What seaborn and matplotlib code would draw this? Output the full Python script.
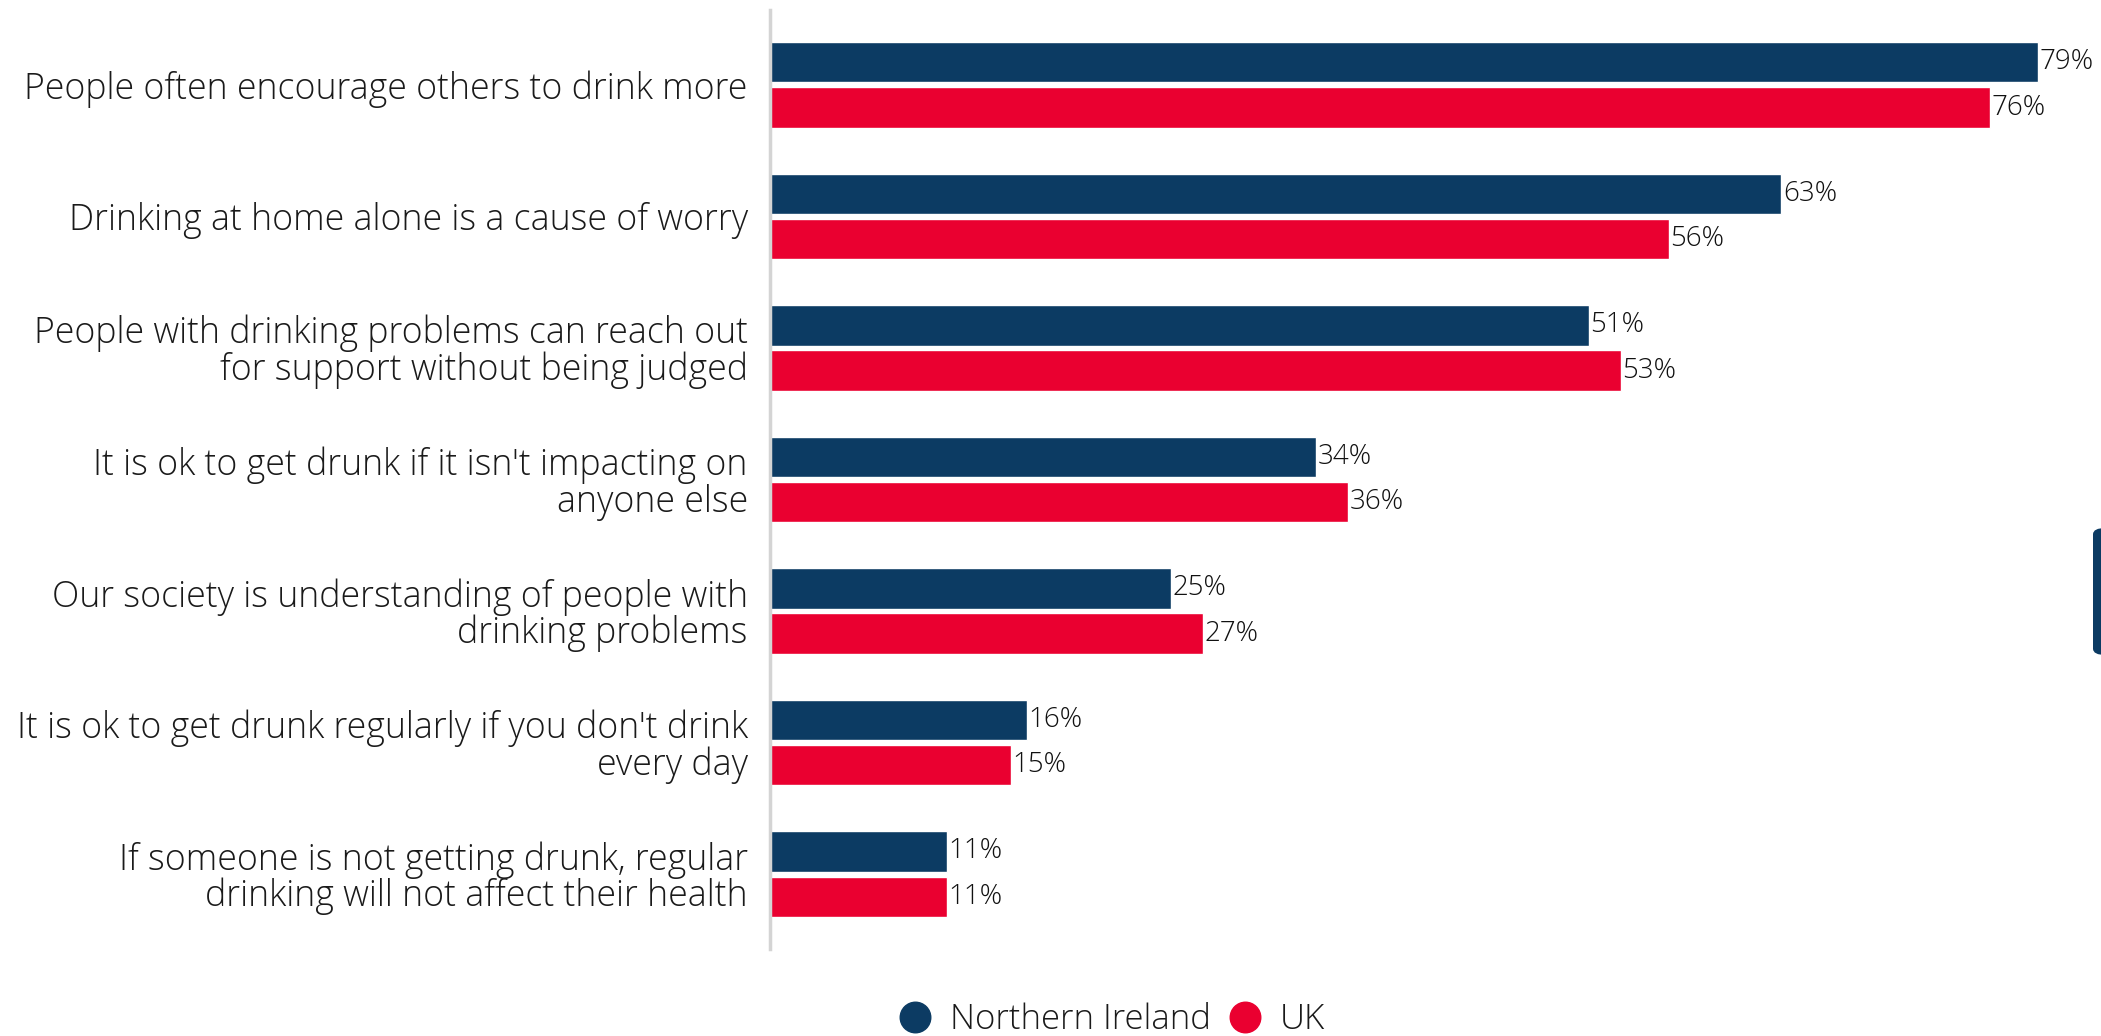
import matplotlib
matplotlib.use("Agg")
import matplotlib.pyplot as plt
from matplotlib.lines import Line2D
from matplotlib.patches import FancyBboxPatch
import pandas as pd
import seaborn as sns

statements = [
    "People often encourage others to drink more",
    "Drinking at home alone is a cause of worry",
    "People with drinking problems can reach out\nfor support without being judged",
    "It is ok to get drunk if it isn't impacting on\nanyone else",
    "Our society is understanding of people with\ndrinking problems",
    "It is ok to get drunk regularly if you don't drink\nevery day",
    "If someone is not getting drunk, regular\ndrinking will not affect their health",
]
regions = ["Northern Ireland", "UK"]
northern_ireland = [79, 63, 51, 34, 25, 16, 11]
uk = [76, 56, 53, 36, 27, 15, 11]

colors = {"Northern Ireland": "#0C3B63", "UK": "#EA0030"}

df = pd.DataFrame({
    "statement": statements * 2,
    "region": [regions[0]] * len(statements) + [regions[1]] * len(statements),
    "pct": northern_ireland + uk,
})

sns.set_theme(style="white")
plt.rcParams["font.family"] = ["Open Sans", "DejaVu Sans"]
plt.rcParams["font.weight"] = 300

fig = plt.figure(figsize=(21.01, 10.36), dpi=100)
ax = fig.add_axes([770 / 2101, 1 - 949 / 1036, 1 - 770 / 2101, 939 / 1036])

sns.barplot(
    data=df, y="statement", x="pct", hue="region", order=statements,
    hue_order=regions, palette=colors, orient="h", width=0.686, gap=0.11,
    saturation=1, legend=False, ax=ax,
)

for container in ax.containers:
    vals = [int(round(b.get_width())) for b in container]
    ax.bar_label(container, labels=[f"{v}%" for v in vals], padding=1,
                 fontsize=20, color="#111111", fontweight=300)

ax.set_xlim(0, 82.9)
ax.set_ylim(len(statements) - 0.43, -0.57)
ax.set_xlabel("")
ax.set_ylabel("")
ax.set_xticks([])
for side in ["top", "right", "bottom"]:
    ax.spines[side].set_visible(False)
ax.spines["left"].set_color("#D4D4D4")
ax.spines["left"].set_linewidth(2.5)
ax.spines["left"].set_bounds(-0.57, len(statements) - 0.43)
ax.tick_params(axis="y", length=0, pad=16, labelsize=25.7, labelcolor="#1A1A1A")
for lbl in ax.get_yticklabels():
    lbl.set_linespacing(0.98)
    lbl.set_fontweight(300)

handles = [
    Line2D([], [], marker="o", linestyle="", markersize=22,
           markerfacecolor=colors[r], markeredgecolor=colors[r], label=r)
    for r in regions
]
fig.legend(handles=handles, loc="center", bbox_to_anchor=(0.5265, 0.016),
           ncol=2, frameon=False, handletextpad=0.2, handlelength=1.6,
           columnspacing=0.2, labelcolor="#1A1A1A",
           prop={"weight": 300, "size": 25})

# side tab at the right edge
fig.patches.append(FancyBboxPatch(
    (2093 / 2101, 1 - 655 / 1036), 20 / 2101, 127 / 1036,
    boxstyle="round,pad=0,rounding_size=0.006", transform=fig.transFigure,
    facecolor="#0C3B63", edgecolor="none", figure=fig,
))

fig.savefig("out.png", dpi=100)
